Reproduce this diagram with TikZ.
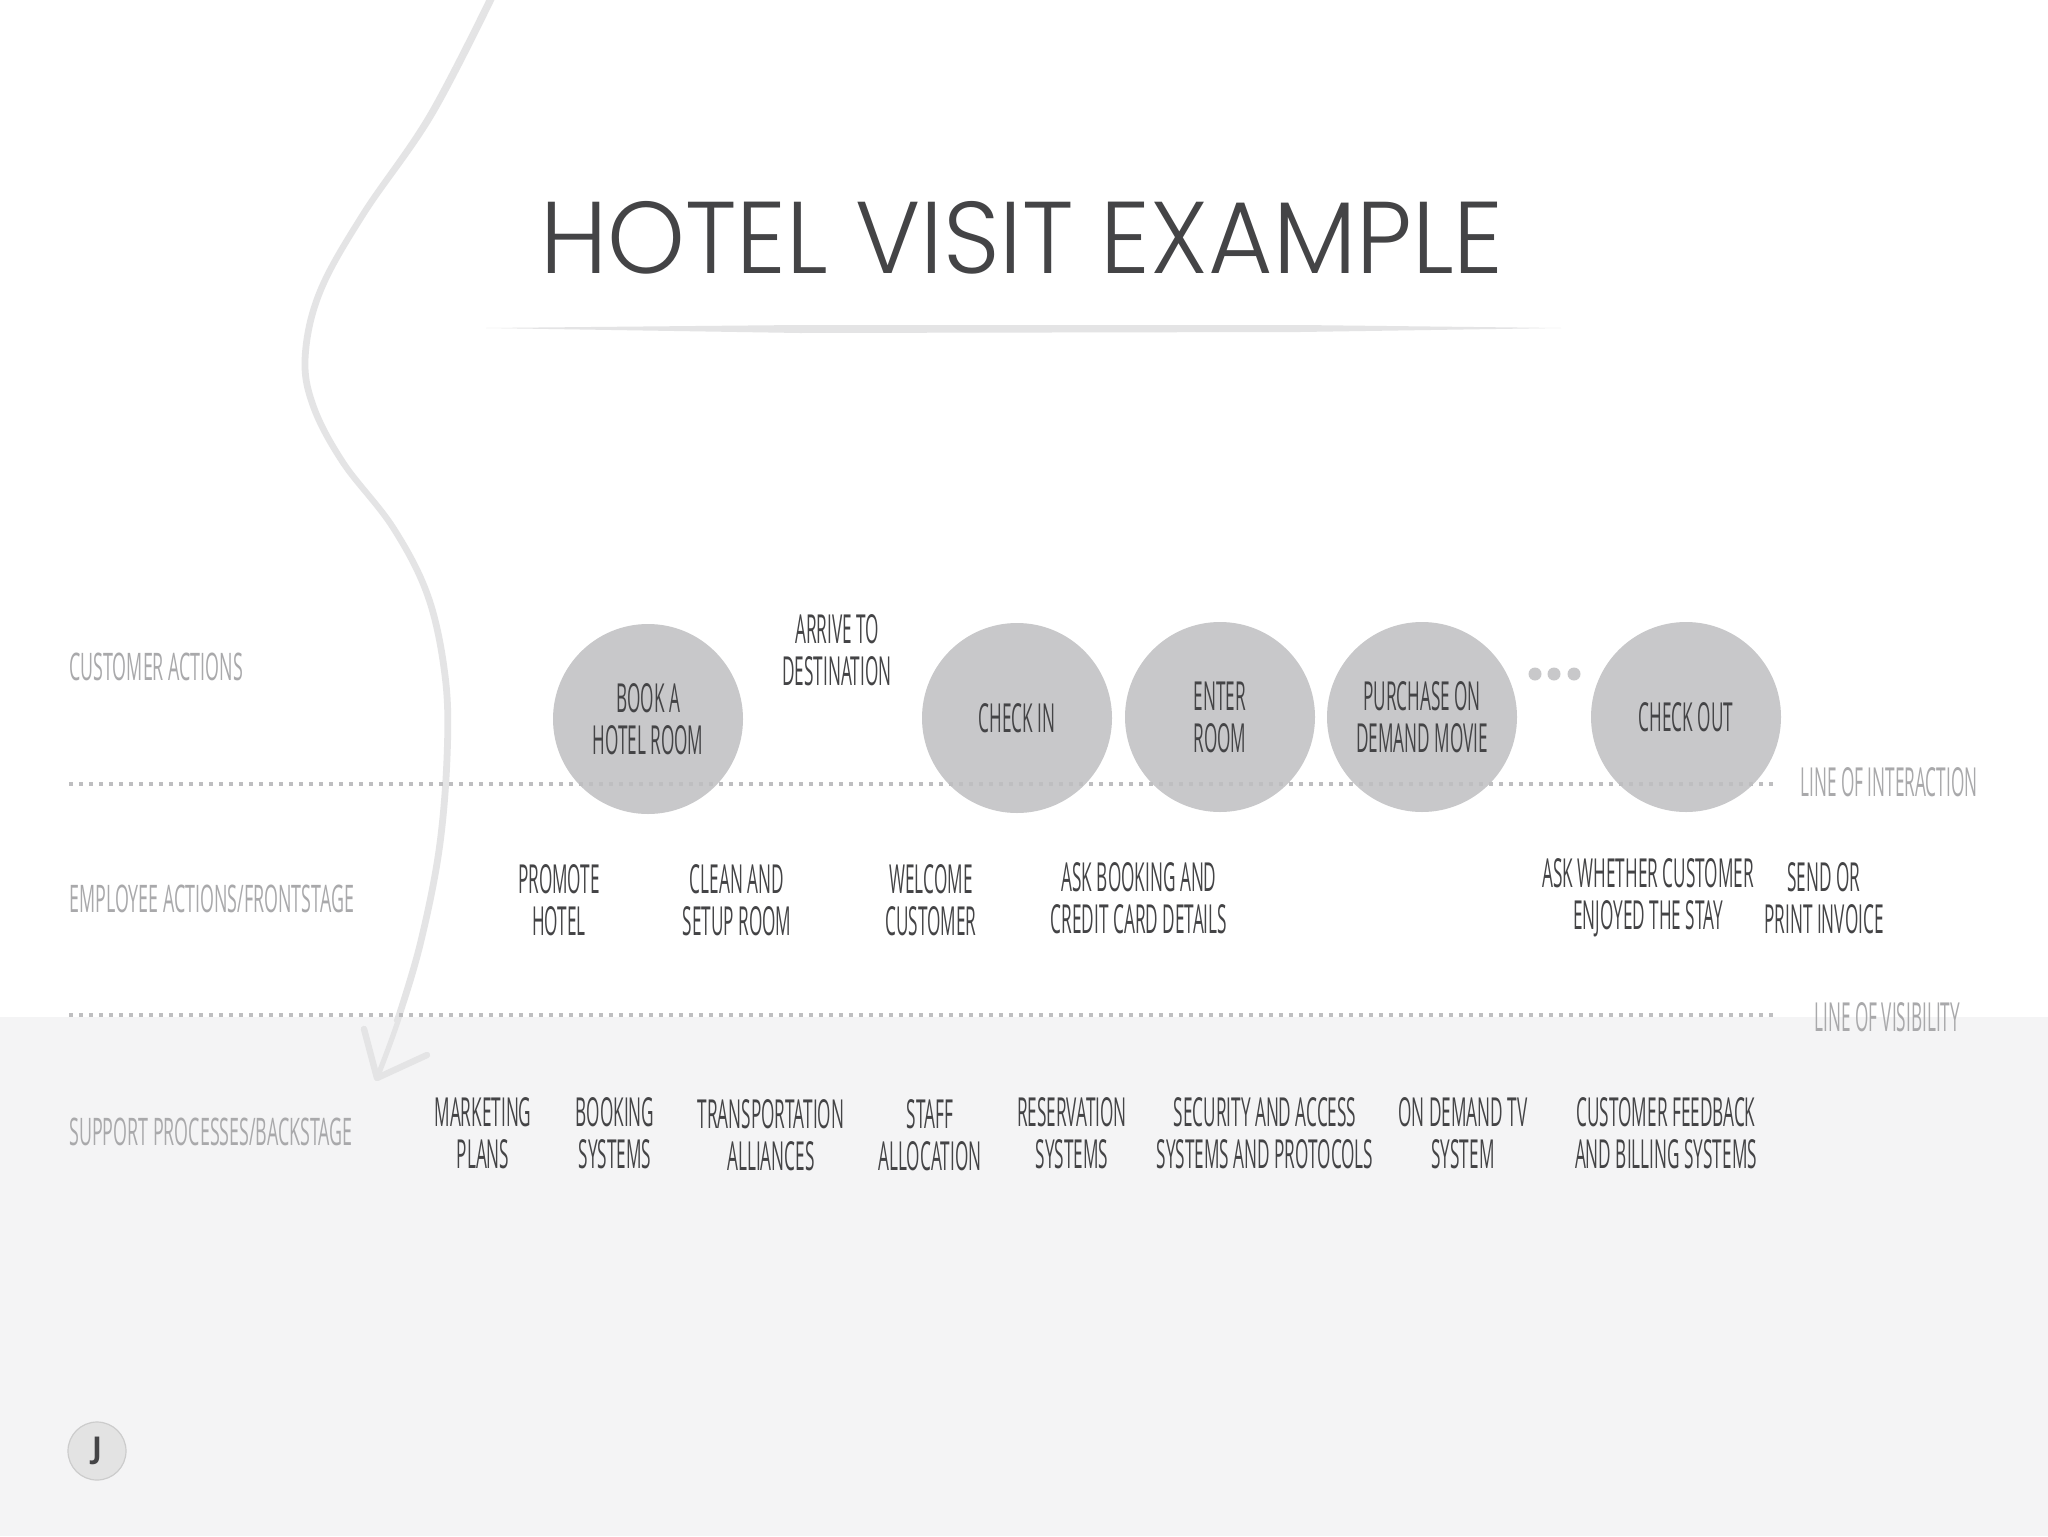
\documentclass[tikz,border=0pt]{standalone}
\usepackage{fontspec}
\setmainfont{Open Sans}
\newfontfamily\handfont[FakeStretch=0.43]{Open Sans}
\newfontfamily\lanefont[FakeStretch=0.47]{Open Sans}
\newfontfamily\titlefont[FakeStretch=0.97]{Poppins Light}
\definecolor{ink}{HTML}{444446}
\definecolor{lanec}{HTML}{A9A9AB}
\definecolor{circ}{HTML}{C8C8CA}
\definecolor{dotc}{HTML}{BEBEC0}
\definecolor{backc}{HTML}{F4F4F5}
\definecolor{brush}{HTML}{E4E4E5}
\begin{document}
\begin{tikzpicture}[x=0.5pt,y=-0.5pt,
  stepcirc/.style={circle, fill=circ, minimum size=95pt, inner sep=0pt, text=ink,
    font=\handfont\fontsize{20}{21}\selectfont, align=center},
  lbl/.style={text=ink, inner sep=0pt, align=center, font=\handfont\fontsize{20}{21}\selectfont},
  lanelbl/.style={text=lanec, inner sep=0pt, anchor=west, font=\lanefont\fontsize{19}{19}\selectfont},
  linelbl/.style={text=lanec, inner sep=0pt, anchor=west, font=\handfont\fontsize{20}{21}\selectfont},
  dotline/.style={draw=dotc, line width=1.75pt, dash pattern=on 1.75pt off 3.25pt},
  moredot/.style={circle, fill=circ, minimum size=6.5pt, inner sep=0pt},
  brushline/.style={draw=brush, line width=2.6pt, line cap=round, line join=round}]
\useasboundingbox (0,0) rectangle (2048,1536);
\fill[white] (0,0) rectangle (2048,1536);
\fill[backc] (0,1017) rectangle (2048,1536);

% title
\node[text=ink, inner sep=0pt, font=\titlefont\fontsize{51}{51}\selectfont] (title) at (1022,238) {HOTEL VISIT EXAMPLE};
\fill[brush] (486,328) -- (800,325) -- (1300,325) -- (1561,328) -- (1300,332) -- (800,333) -- cycle;

% curved brush arrow
\coordinate (arrs) at (494,-5);
\coordinate (arrt) at (377,1078);
\draw[brushline] plot[smooth, tension=0.6] coordinates {(494,-5) (432,115) (364,214) (321,291) (306,356) (314,406) (344,463) (394,528) (429,597) (446,677) (448,753) (440,849) (421,944) (398,1021) (377,1078)};
\draw[brushline, line width=1.2pt] plot[smooth, tension=0.6] coordinates {(490,-5) (428,115) (361,214) (318,291) (303,356) (311,406) (341,463) (391,528) (426,597) (443,677) (445,753) (437,849) (418,944) (395,1021)};
\draw[brushline, line width=3.2pt] (364,1029) -- (arrt) -- (427,1055);

% lane labels
\node[lanelbl] (lca) at (69,667) {CUSTOMER ACTIONS};
\node[lanelbl] (lea) at (69,899) {EMPLOYEE ACTIONS/FRONTSTAGE};
\node[lanelbl] (lsp) at (69,1132) {SUPPORT PROCESSES/BACKSTAGE};

% customer action circles
\node[stepcirc] (book) at (648,719) {};
\node[stepcirc] (checkin) at (1017,718) {};
\node[stepcirc] (enter) at (1220,717) {};
\node[stepcirc] (movie) at (1422,717) {};
\node[stepcirc] (checkout) at (1686,717) {};
\node[moredot] (m1) at (1535,674) {};
\node[moredot] (m2) at (1554,674) {};
\node[moredot] (m3) at (1574,674) {};

% lines
\coordinate (ia) at (69,784);
\coordinate (ib) at (1776,784);
\coordinate (va) at (69,1015);
\coordinate (vb) at (1776,1015);
\draw[dotline] (ia) -- (ib);
\draw[dotline] (va) -- (vb);
\node[linelbl] (loi) at (1800,782) {LINE OF INTERACTION};
\node[linelbl] (lov) at (1814,1017) {LINE OF VISIBILITY};

% circle texts
\node[lbl] (tbook) at (book) {BOOK A\\HOTEL ROOM};
\node[lbl] (tcheckin) at (checkin) {CHECK IN};
\node[lbl] (tenter) at (enter) {ENTER\\ROOM};
\node[lbl] (tmovie) at (movie) {PURCHASE ON\\DEMAND MOVIE};
\node[lbl] (tcheckout) at (checkout) {CHECK OUT};
\node[lbl] (arrive) at (837,650) {ARRIVE TO\\DESTINATION};

% frontstage
\node[lbl] (promote) at (559,900) {PROMOTE\\HOTEL};
\node[lbl] (clean) at (737,900) {CLEAN AND\\SETUP ROOM};
\node[lbl] (welcome) at (931,900) {WELCOME\\CUSTOMER};
\node[lbl] (askbook) at (1139,898) {ASK BOOKING AND\\CREDIT CARD DETAILS};
\node[lbl] (askstay) at (1648,898) {ASK WHETHER CUSTOMER\\ENJOYED THE STAY};
\node[lbl] (invoice) at (1824,898) {SEND OR\\PRINT INVOICE};

% backstage
\node[lbl] (mkt) at (483,1133) {MARKETING\\PLANS};
\node[lbl] (bks) at (615,1133) {BOOKING\\SYSTEMS};
\node[lbl] (trans) at (771,1135) {TRANSPORTATION\\ALLIANCES};
\node[lbl] (staff) at (930,1135) {STAFF\\ALLOCATION};
\node[lbl] (resv) at (1072,1133) {RESERVATION\\SYSTEMS};
\node[lbl] (secu) at (1265,1133) {SECURITY AND ACCESS\\SYSTEMS AND PROTOCOLS};
\node[lbl] (odtv) at (1463,1133) {ON DEMAND TV\\SYSTEM};
\node[lbl] (cfb) at (1666,1133) {CUSTOMER FEEDBACK\\AND BILLING SYSTEMS};

% J badge
\node[circle, fill=black!11, draw=black!20, line width=0.6pt, minimum size=29pt, inner sep=0pt,
  text=ink, font=\bfseries\fontsize{15}{15}\selectfont] (jbadge) at (97,1451) {J};
\end{tikzpicture}
\end{document}
